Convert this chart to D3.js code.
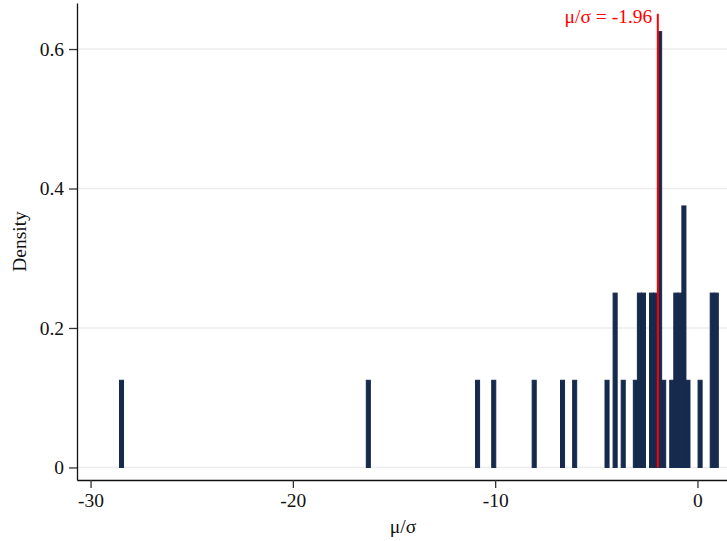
<!DOCTYPE html>
<html>
<head>
<meta charset="utf-8">
<script src="https://d3js.org/d3.v7.min.js"></script>
<style>
  body { margin: 0; background: #fff; }
  svg { display: block; font-family: "Liberation Serif", "DejaVu Serif", serif; }
</style>
</head>
<body>
<svg id="chart" width="727" height="541"></svg>
<script>
// histogram of mu/sigma, bin width 0.2 (lower edge of each non-empty bin)
var binWidth = 0.2;
var binStart = [-28.57, -16.37, -10.97, -10.17, -8.17, -6.77, -6.17, -4.57, -4.17, -3.77,
                -3.17, -2.97, -2.77, -2.37, -2.17, -1.97, -1.77, -1.37, -1.17, -0.97,
                -0.77, -0.57, 0.03, 0.63, 0.83];
var density = [0.125, 0.125, 0.125, 0.125, 0.125, 0.125, 0.125, 0.125, 0.25, 0.125,
               0.125, 0.25, 0.25, 0.25, 0.25, 0.625, 0.125, 0.125, 0.25, 0.25,
               0.375, 0.125, 0.125, 0.25, 0.25];
var xTicks = [-30, -20, -10, 0];
var yTicks = [0, 0.2, 0.4, 0.6];
var refValue = -1.96;
var refLabel = "μ/σ = -1.96";

var svg = d3.select("#chart"),
    pLeft = 77, pRight = 727, pTop = 3, pBottom = 480,
    fs = 19.5;

var x = d3.scaleLinear().domain([-30.67, 1.46]).range([pLeft, pRight]);
var y = d3.scaleLinear().domain([-0.018, 0.666]).range([pBottom, pTop]);

// gridlines
svg.append("g")
  .selectAll("line")
  .data(yTicks)
  .enter().append("line")
    .attr("x1", pLeft).attr("x2", pRight)
    .attr("y1", function(d) { return y(d); })
    .attr("y2", function(d) { return y(d); })
    .attr("stroke", "#ececec")
    .attr("stroke-width", 1.5);

// bars
svg.append("g")
  .selectAll("rect")
  .data(binStart)
  .enter().append("rect")
    .attr("x", function(d) { return x(d); })
    .attr("width", function(d) { return x(d + binWidth) - x(d); })
    .attr("y", function(d, i) { return y(density[i]); })
    .attr("height", function(d, i) { return y(0) - y(density[i]); })
    .attr("fill", "#152a4d")
    .attr("stroke", "#152a4d")
    .attr("stroke-width", 1);

// reference line
svg.append("line")
    .attr("x1", x(refValue)).attr("x2", x(refValue))
    .attr("y1", y(0)).attr("y2", y(0.6506))
    .attr("stroke", "#ff0000")
    .attr("stroke-width", 2);

svg.append("text")
    .attr("x", x(refValue) - 5.5)
    .attr("y", 22.5)
    .attr("text-anchor", "end")
    .attr("fill", "#ff0000")
    .attr("font-size", fs)
    .text(refLabel);

// axes
var xAxis = svg.append("g")
    .attr("transform", "translate(0," + pBottom + ")")
    .call(d3.axisBottom(x).tickValues(xTicks).tickSize(8).tickPadding(5).tickSizeOuter(0)
      .tickFormat(function(d) { return String(d); }));

var yAxis = svg.append("g")
    .attr("transform", "translate(" + pLeft + ",0)")
    .call(d3.axisLeft(y).tickValues(yTicks).tickSize(8).tickPadding(5).tickSizeOuter(0)
      .tickFormat(function(d) { return d === 0 ? "0" : d3.format(".1f")(d); }));

[xAxis, yAxis].forEach(function(a) {
  a.select(".domain").attr("stroke", "#111").attr("stroke-width", 1.3);
  a.selectAll(".tick line").attr("stroke", "#333").attr("stroke-width", 1.3);
  a.selectAll(".tick text")
    .attr("font-family", "Liberation Serif, serif")
    .attr("font-size", fs)
    .attr("fill", "#111");
});

// axis titles
svg.append("text")
    .attr("x", (pLeft + pRight) / 2 + 1)
    .attr("y", 533)
    .attr("text-anchor", "middle")
    .attr("font-size", fs)
    .attr("fill", "#111")
    .text("μ/σ");

svg.append("text")
    .attr("transform", "translate(26," + ((pTop + pBottom) / 2) + ") rotate(-90)")
    .attr("text-anchor", "middle")
    .attr("font-size", fs)
    .attr("fill", "#111")
    .text("Density");
</script>
</body>
</html>
